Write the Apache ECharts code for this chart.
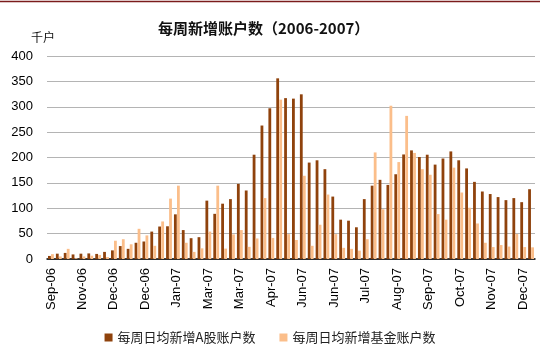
<!DOCTYPE html>
<html>
<head>
<meta charset="utf-8">
<script src="https://cdn.jsdelivr.net/npm/echarts@6/dist/echarts.min.js"></script>
<style>
  html, body { margin: 0; padding: 0; background: #fff; }
  #chart { width: 540px; height: 348px; }
</style>
</head>
<body>
<div id="chart"></div>
<script>
// Weekly periods (week-ending month), Sep 2006 – Dec 2007; holiday weeks are absent
const weeks = [
  'Sep-06','Oct-06','Oct-06','Oct-06','Nov-06','Nov-06','Nov-06','Nov-06',
  'Dec-06','Dec-06','Dec-06','Dec-06','Dec-06','Jan-07','Jan-07','Jan-07',
  'Jan-07','Feb-07','Feb-07','Feb-07','Mar-07','Mar-07','Mar-07','Mar-07',
  'Mar-07','Apr-07','Apr-07','Apr-07','Apr-07','May-07','May-07','May-07',
  'Jun-07','Jun-07','Jun-07','Jun-07','Jun-07','Jul-07','Jul-07','Jul-07',
  'Jul-07','Aug-07','Aug-07','Aug-07','Aug-07','Aug-07','Sep-07','Sep-07',
  'Sep-07','Sep-07','Oct-07','Oct-07','Oct-07','Nov-07','Nov-07','Nov-07',
  'Nov-07','Nov-07','Dec-07','Dec-07','Dec-07','Dec-07'
];

// Daily average of new A-share accounts per week (thousand)
const aShareAccounts = [
  6, 10.5, 12, 9, 10.5, 11, 10, 14, 17, 25.5,
  20, 32, 34.5, 54, 64, 64.5, 88, 57, 41, 43,
  115, 89, 109, 118, 148, 135, 205.5, 263, 297, 356,
  317, 316, 324.5, 190, 194.5, 177, 123, 77.5, 75.5, 62.5,
  118, 144.5, 156, 146, 167, 206, 214, 201, 205.5, 186,
  198, 212, 194.5, 178.5, 152, 133, 128, 122, 116, 120,
  112, 137.5
];

// Daily average of new fund accounts per week (thousand)
const fundAccounts = [
  9.5, 5, 20, 1.5, 5, 6.5, 8, 4, 36, 39,
  29, 59.5, 46.5, 26, 74, 119, 144.5, 32, 14, 21,
  54, 144.5, 20.5, 48.5, 57, 24, 40.5, 120, 41.5, 314,
  49, 37.5, 164, 26, 67.5, 127, 49, 22, 20, 16.5,
  39, 210, 98, 302, 191, 282, 209, 177, 166, 88.5,
  77.5, 180, 131, 101, 70, 32, 23.5, 27.5, 24.5, 49.5,
  23.5, 23
];

const seriesNames = ['每周日均新增A股账户数', '每周日均新增基金账户数'];
const yTicks = { min: 0, max: 400, step: 50 };

const latin = '"Liberation Sans", Arial, sans-serif';
const cjk = '"Noto Sans CJK SC", "Liberation Sans", sans-serif';

const chart = echarts.init(document.getElementById('chart'), null, { renderer: 'canvas' });

chart.setOption({
  backgroundColor: '#ffffff',
  animation: false,
  color: ['#8f420c', '#fbbe8a'],
  title: [
    {
      text: '每周新增账户数（2006-2007）',
      left: 153,
      top: 16,
      textStyle: { fontFamily: cjk, fontSize: 15, fontWeight: 'bold', color: '#111' }
    },
    {
      text: '千户',
      left: 26,
      top: 26,
      textStyle: { fontFamily: cjk, fontSize: 12, fontWeight: 'normal', color: '#111' }
    }
  ],
  graphic: [
    {
      type: 'line',
      shape: { x1: 0, y1: 1.5, x2: 540, y2: 1.5 },
      style: { stroke: '#7b1c1c', lineWidth: 1.5 },
      silent: true
    }
  ],
  legend: {
    data: seriesNames,
    left: 'center',
    top: 326,
    icon: 'rect',
    itemWidth: 8,
    itemHeight: 8,
    itemGap: 24,
    textStyle: { fontFamily: cjk, fontSize: 13, color: '#222' }
  },
  grid: { left: 47, right: 5, top: 56, bottom: 89, containLabel: false },
  xAxis: {
    type: 'category',
    data: weeks,
    boundaryGap: true,
    axisLine: { show: true, lineStyle: { color: '#000', width: 1.5 } },
    axisTick: { show: false },
    axisLabel: {
      interval: 3,
      rotate: 90,
      margin: 9,
      fontFamily: latin,
      fontSize: 13,
      color: '#000'
    }
  },
  yAxis: {
    type: 'value',
    min: yTicks.min,
    max: yTicks.max,
    interval: yTicks.step,
    axisLine: { show: false },
    axisTick: { show: false },
    axisLabel: { fontFamily: latin, fontSize: 13, color: '#000', margin: 14 },
    splitLine: { lineStyle: { color: '#b4b4b4', width: 1 } }
  },
  series: [
    {
      name: seriesNames[0],
      type: 'bar',
      data: aShareAccounts,
      barWidth: 2.8,
      barGap: '8%',
      itemStyle: { color: '#8f420c' }
    },
    {
      name: seriesNames[1],
      type: 'bar',
      data: fundAccounts,
      barWidth: 2.8,
      itemStyle: { color: '#fbbe8a' }
    }
  ]
});
</script>
</body>
</html>
